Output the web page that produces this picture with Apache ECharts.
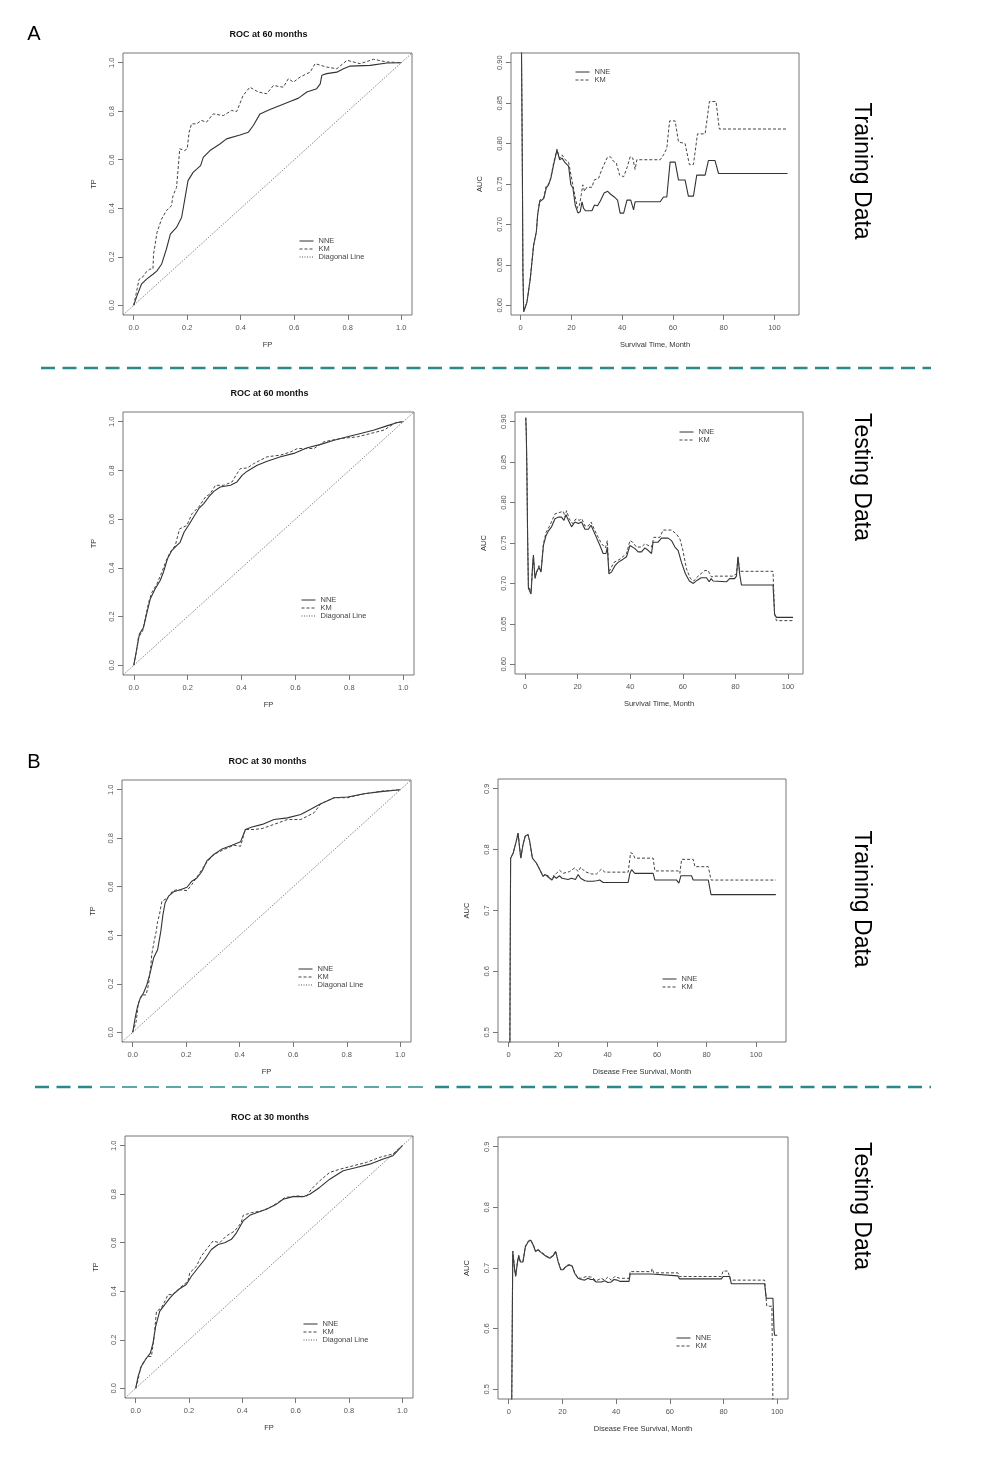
<!DOCTYPE html>
<html>
<head>
<meta charset="utf-8">
<script src="https://cdn.jsdelivr.net/npm/echarts@6/dist/echarts.min.js"></script>
<style>
  html, body { margin:0; padding:0; background:#fff; }
  #main { width:985px; height:1476px; }
</style>
</head>
<body>
<div id="main"></div>
<script>
// ticks / labels
var rocTicks = [0, 0.2, 0.4, 0.6, 0.8, 1.0];
var monthTicks = [0, 20, 40, 60, 80, 100];
var aucTicksA = [0.60, 0.65, 0.70, 0.75, 0.80, 0.85, 0.90];
var aucTicksB = [0.5, 0.6, 0.7, 0.8, 0.9];
var rocTitles = ['ROC at 60 months', 'ROC at 60 months', 'ROC at 30 months', 'ROC at 30 months'];
var aucXNames = ['Survival Time, Month', 'Survival Time, Month', 'Disease Free Survival, Month', 'Disease Free Survival, Month'];
var rowLabels = ['Training Data', 'Testing Data', 'Training Data', 'Testing Data'];
var partLabels = ['A', 'B'];

var diagonal = [[-0.04, -0.04], [1.04, 1.04]];

// A - training - ROC
var rocTrainA_nne = [[0,0],[0.012,0.039],[0.029,0.087],[0.047,0.107],[0.072,0.128],[0.087,0.142],[0.104,0.169],[0.122,0.231],[0.137,0.293],[0.160,0.321],[0.179,0.362],[0.191,0.438],[0.203,0.514],[0.222,0.548],[0.250,0.576],[0.260,0.610],[0.285,0.638],[0.322,0.665],[0.347,0.686],[0.397,0.702],[0.428,0.713],[0.447,0.741],[0.472,0.789],[0.509,0.807],[0.547,0.824],[0.584,0.840],[0.616,0.854],[0.647,0.879],[0.684,0.893],[0.697,0.913],[0.703,0.948],[0.721,0.955],[0.759,0.961],[0.784,0.975],[0.809,0.986],[0.884,0.989],[0.946,0.999],[1,1]];
var rocTrainA_km = [[0,0],[0.01,0.052],[0.02,0.107],[0.035,0.118],[0.047,0.138],[0.06,0.149],[0.072,0.15],[0.074,0.21],[0.08,0.25],[0.087,0.300],[0.104,0.355],[0.122,0.390],[0.141,0.410],[0.147,0.452],[0.160,0.486],[0.166,0.562],[0.172,0.645],[0.191,0.638],[0.2,0.645],[0.207,0.713],[0.216,0.748],[0.235,0.748],[0.253,0.762],[0.272,0.755],[0.297,0.789],[0.335,0.782],[0.366,0.803],[0.385,0.799],[0.409,0.865],[0.434,0.899],[0.466,0.879],[0.497,0.872],[0.522,0.906],[0.559,0.899],[0.578,0.934],[0.597,0.920],[0.622,0.941],[0.659,0.961],[0.678,0.996],[0.721,0.982],[0.759,0.975],[0.797,1.010],[0.846,0.996],[0.896,1.014],[0.946,1.003],[1,1]];

// A - training - AUC
var aucTrainA_nne = [[0.3,0.93],[0.5,0.848],[0.7,0.757],[0.9,0.641],[1.2,0.592],[1.8,0.594],[2.5,0.604],[3.8,0.633],[5.1,0.674],[6.2,0.691],[6.7,0.712],[7.5,0.728],[9.1,0.732],[10.1,0.745],[11,0.749],[11.9,0.757],[13,0.774],[14.3,0.792],[15.4,0.780],[16.3,0.782],[17.6,0.776],[18.9,0.772],[19.8,0.749],[20.6,0.745],[21.5,0.724],[22.6,0.714],[23.5,0.716],[24.2,0.728],[24.8,0.720],[25.5,0.717],[28.1,0.717],[29.1,0.724],[30.3,0.723],[31.4,0.729],[32.9,0.739],[34.3,0.741],[35.6,0.737],[36.9,0.734],[38.2,0.730],[39.2,0.714],[40.6,0.714],[41.9,0.730],[43.4,0.730],[44.5,0.718],[45.1,0.728],[55,0.728],[56.3,0.734],[57.6,0.734],[58.9,0.777],[60.9,0.777],[62.2,0.755],[64.8,0.755],[66.1,0.735],[68.1,0.735],[69.4,0.761],[72.7,0.761],[74,0.779],[76.6,0.779],[78,0.763],[105.2,0.763]];
var aucTrainA_km = [[0.3,0.93],[0.5,0.848],[0.7,0.757],[0.9,0.641],[1.2,0.592],[1.8,0.594],[2.5,0.604],[3.8,0.633],[5.1,0.674],[6.2,0.691],[6.7,0.712],[7.5,0.730],[9.1,0.733],[10.1,0.748],[11,0.750],[11.9,0.758],[13,0.776],[14.3,0.793],[15.4,0.782],[16.3,0.786],[17.6,0.780],[18.9,0.777],[20.2,0.755],[21.5,0.734],[22.4,0.720],[23.2,0.724],[23.9,0.737],[24.5,0.749],[25.2,0.741],[26.1,0.746],[28.1,0.746],[29,0.755],[30.7,0.757],[32,0.768],[34,0.782],[35.3,0.784],[36.6,0.778],[37.7,0.776],[39,0.761],[40.6,0.759],[41.9,0.770],[43.2,0.784],[44.2,0.782],[45.1,0.768],[45.8,0.780],[55,0.780],[56.3,0.786],[57.6,0.794],[58.7,0.828],[60.9,0.828],[62.2,0.802],[64.8,0.800],[66.5,0.774],[68.1,0.774],[69.7,0.812],[72.7,0.812],[74.4,0.852],[77,0.852],[78.3,0.818],[105.2,0.818]];

// A - testing - ROC
var rocTestA_nne = [[0,0],[0.011,0.066],[0.021,0.128],[0.036,0.155],[0.046,0.203],[0.061,0.272],[0.079,0.313],[0.098,0.348],[0.110,0.382],[0.125,0.437],[0.141,0.471],[0.160,0.492],[0.172,0.505],[0.187,0.547],[0.203,0.574],[0.222,0.609],[0.241,0.643],[0.259,0.663],[0.278,0.691],[0.297,0.714],[0.321,0.732],[0.359,0.739],[0.383,0.753],[0.402,0.780],[0.421,0.797],[0.458,0.821],[0.495,0.838],[0.545,0.856],[0.594,0.870],[0.644,0.893],[0.694,0.907],[0.743,0.924],[0.793,0.938],[0.842,0.952],[0.892,0.966],[0.942,0.984],[0.979,0.997],[1,1]];
var rocTestA_km = [[0,0],[0.009,0.052],[0.017,0.114],[0.033,0.141],[0.042,0.190],[0.055,0.258],[0.067,0.299],[0.086,0.334],[0.104,0.382],[0.123,0.437],[0.135,0.464],[0.154,0.492],[0.170,0.560],[0.197,0.574],[0.216,0.622],[0.241,0.650],[0.266,0.691],[0.284,0.705],[0.303,0.739],[0.334,0.739],[0.365,0.753],[0.383,0.787],[0.396,0.808],[0.421,0.810],[0.445,0.828],[0.470,0.842],[0.495,0.856],[0.545,0.863],[0.582,0.876],[0.607,0.890],[0.669,0.890],[0.706,0.918],[0.768,0.931],[0.830,0.938],[0.880,0.952],[0.929,0.966],[0.973,0.997],[1,1]];

// A - testing - AUC
var aucTestA_nne = [[0.3,0.905],[0.5,0.885],[0.7,0.845],[1.0,0.757],[1.3,0.694],[1.9,0.692],[2.3,0.687],[2.9,0.722],[3.2,0.735],[3.8,0.706],[4.4,0.714],[5.3,0.720],[6.1,0.714],[7,0.747],[8,0.759],[8.9,0.765],[10.1,0.770],[11.4,0.780],[12.7,0.782],[13.9,0.782],[14.8,0.778],[15.6,0.785],[16.5,0.778],[17.7,0.770],[19,0.776],[20.3,0.774],[21.5,0.776],[22.8,0.767],[24.1,0.767],[25.1,0.772],[26.6,0.761],[28.5,0.747],[29.7,0.737],[30.8,0.737],[31.3,0.745],[31.9,0.712],[32.3,0.710],[32.9,0.714],[34.2,0.722],[35.4,0.726],[37.3,0.730],[38.6,0.733],[39.9,0.747],[40.5,0.749],[41.8,0.743],[43,0.739],[44.3,0.739],[45.6,0.744],[46.8,0.741],[48.1,0.737],[48.7,0.751],[50.6,0.751],[51.9,0.756],[54.4,0.756],[55.7,0.753],[57,0.745],[58.2,0.741],[59.5,0.726],[61,0.712],[62.5,0.703],[64,0.700],[65.5,0.704],[67,0.707],[69,0.707],[70,0.702],[70.8,0.706],[71.5,0.703],[72.2,0.702],[76.6,0.702],[77.8,0.706],[79.7,0.706],[80.4,0.709],[81,0.733],[81.6,0.712],[82.3,0.698],[94.3,0.698],[94.9,0.662],[95.6,0.658],[101.9,0.658]];
var aucTestA_km = [[0.3,0.905],[0.5,0.885],[0.7,0.845],[1.0,0.757],[1.3,0.696],[2.3,0.690],[2.9,0.722],[3.2,0.733],[3.8,0.708],[5.3,0.722],[6.1,0.716],[7,0.749],[8,0.763],[9.5,0.772],[11.4,0.786],[13.3,0.788],[14.6,0.789],[15.2,0.782],[15.8,0.790],[16.8,0.780],[18.1,0.774],[19.4,0.780],[20.6,0.778],[21.6,0.780],[22.8,0.771],[24.1,0.771],[25.1,0.776],[27.2,0.761],[29.1,0.749],[30.6,0.744],[31.3,0.753],[31.9,0.714],[32.5,0.714],[33.8,0.726],[36.1,0.730],[38.6,0.737],[39.9,0.753],[40.9,0.751],[42.4,0.745],[44.3,0.745],[45.6,0.749],[48.1,0.745],[49,0.757],[51.3,0.757],[52.5,0.766],[55.7,0.766],[57.6,0.761],[58.9,0.755],[59.9,0.743],[61.4,0.718],[62.9,0.706],[64.2,0.703],[65.2,0.707],[66.5,0.711],[68.4,0.716],[69.6,0.716],[70.9,0.708],[71.5,0.710],[72.2,0.709],[79.1,0.709],[80.4,0.712],[81,0.733],[81.6,0.715],[94.3,0.715],[94.9,0.662],[95.6,0.654],[101.9,0.654]];

// B - training - ROC
var rocTrainB_nne = [[0,0],[0.009,0.058],[0.018,0.106],[0.028,0.140],[0.040,0.161],[0.053,0.196],[0.065,0.244],[0.078,0.306],[0.093,0.340],[0.105,0.416],[0.113,0.485],[0.121,0.533],[0.134,0.561],[0.153,0.579],[0.178,0.588],[0.203,0.598],[0.221,0.623],[0.240,0.636],[0.259,0.664],[0.278,0.708],[0.303,0.733],[0.334,0.756],[0.371,0.771],[0.403,0.785],[0.421,0.836],[0.446,0.846],[0.484,0.857],[0.528,0.877],[0.578,0.884],[0.628,0.898],[0.665,0.919],[0.703,0.942],[0.753,0.967],[0.803,0.970],[0.865,0.983],[0.928,0.992],[1,1]];
var rocTrainB_km = [[0,0],[0.013,0.044],[0.021,0.120],[0.034,0.154],[0.050,0.154],[0.059,0.196],[0.068,0.278],[0.071,0.320],[0.080,0.375],[0.088,0.416],[0.093,0.457],[0.100,0.485],[0.109,0.540],[0.130,0.554],[0.150,0.584],[0.171,0.588],[0.203,0.584],[0.221,0.609],[0.246,0.650],[0.275,0.698],[0.303,0.733],[0.340,0.753],[0.378,0.771],[0.403,0.767],[0.421,0.836],[0.453,0.836],[0.484,0.840],[0.528,0.857],[0.578,0.877],[0.628,0.877],[0.678,0.905],[0.703,0.942],[0.753,0.967],[0.803,0.967],[0.865,0.983],[0.928,0.994],[1,1]];

// B - training - AUC
var aucTrainB_nne = [[0.5,0.47],[0.6,0.6],[0.8,0.786],[1.8,0.794],[3.1,0.814],[3.8,0.827],[4.2,0.825],[4.9,0.786],[5.8,0.808],[6.7,0.822],[7.8,0.825],[8.5,0.814],[9.6,0.786],[11.2,0.778],[12.6,0.767],[13.9,0.756],[14.8,0.759],[16.6,0.753],[17.5,0.750],[18.4,0.756],[19.3,0.753],[20.6,0.757],[21.6,0.753],[24,0.751],[25.4,0.753],[26.1,0.754],[27,0.751],[28.1,0.759],[29.1,0.753],[30.8,0.749],[32.1,0.748],[34.1,0.748],[35.5,0.749],[36.8,0.750],[38.2,0.746],[48.3,0.746],[49,0.761],[49.7,0.767],[51,0.761],[58.4,0.761],[59.1,0.750],[67.9,0.750],[68.8,0.745],[69.6,0.757],[73.9,0.757],[74.6,0.750],[80.7,0.750],[81.8,0.726],[108,0.726]];
var aucTrainB_km = [[0.5,0.47],[0.6,0.6],[0.8,0.786],[1.8,0.794],[3.1,0.814],[3.8,0.828],[4.2,0.826],[4.9,0.786],[5.8,0.808],[6.7,0.822],[7.8,0.825],[8.5,0.814],[9.6,0.786],[11.2,0.778],[12.6,0.767],[13.9,0.757],[14.8,0.760],[16.6,0.755],[17.5,0.750],[18.4,0.759],[19.3,0.761],[20.6,0.766],[22,0.761],[24.7,0.764],[26.7,0.770],[28.1,0.764],[29.1,0.771],[30.8,0.764],[33.5,0.760],[35.5,0.760],[37.5,0.768],[38.9,0.763],[48.3,0.763],[49.3,0.795],[50.3,0.793],[51,0.786],[58.4,0.786],[59.1,0.765],[68.6,0.765],[69.2,0.761],[69.9,0.784],[74.6,0.784],[75.3,0.772],[80.7,0.772],[81.8,0.750],[108,0.750]];

// B - testing - ROC
var rocTestB_nne = [[0,0],[0.009,0.048],[0.021,0.090],[0.040,0.124],[0.055,0.145],[0.065,0.186],[0.075,0.255],[0.090,0.317],[0.109,0.345],[0.128,0.372],[0.146,0.393],[0.165,0.410],[0.190,0.428],[0.209,0.462],[0.234,0.497],[0.259,0.531],[0.284,0.572],[0.309,0.593],[0.334,0.600],[0.359,0.614],[0.378,0.641],[0.403,0.690],[0.428,0.713],[0.453,0.724],[0.490,0.738],[0.528,0.759],[0.553,0.779],[0.590,0.790],[0.628,0.790],[0.653,0.800],[0.690,0.828],[0.728,0.862],[0.778,0.897],[0.828,0.910],[0.878,0.924],[0.928,0.945],[0.965,0.959],[1,1]];
var rocTestB_km = [[0,0],[0.009,0.034],[0.018,0.083],[0.030,0.110],[0.046,0.131],[0.059,0.131],[0.068,0.200],[0.078,0.317],[0.096,0.331],[0.113,0.366],[0.121,0.386],[0.140,0.386],[0.165,0.414],[0.196,0.441],[0.203,0.476],[0.228,0.503],[0.246,0.545],[0.265,0.572],[0.290,0.607],[0.315,0.600],[0.340,0.628],[0.371,0.648],[0.396,0.683],[0.403,0.713],[0.434,0.724],[0.471,0.731],[0.503,0.745],[0.534,0.766],[0.559,0.786],[0.603,0.793],[0.640,0.790],[0.659,0.821],[0.690,0.855],[0.728,0.890],[0.765,0.903],[0.815,0.917],[0.865,0.931],[0.915,0.952],[0.965,0.966],[1,1]];

// B - testing - AUC
var aucTestB_nne = [[1.1,0.47],[1.3,0.6],[1.5,0.727],[2.2,0.697],[2.6,0.686],[3.2,0.708],[3.7,0.720],[4.3,0.710],[5.3,0.710],[6.2,0.735],[7.2,0.743],[8.1,0.746],[9.1,0.738],[10,0.727],[10.9,0.730],[12.2,0.725],[14,0.719],[15.3,0.716],[16.5,0.720],[17.5,0.727],[18.4,0.710],[19.4,0.697],[20.2,0.697],[21.5,0.703],[22.7,0.705],[23.6,0.703],[24.6,0.691],[25.8,0.683],[27,0.681],[28.3,0.680],[29.5,0.683],[30.5,0.681],[31.4,0.681],[32.6,0.677],[34.5,0.677],[35.7,0.679],[36.9,0.676],[38.2,0.677],[39.2,0.681],[40.4,0.680],[41.3,0.678],[44.8,0.678],[45.2,0.690],[53.1,0.690],[53.7,0.687],[63,0.687],[63.6,0.682],[79.2,0.682],[79.8,0.686],[82.3,0.686],[82.9,0.674],[95.3,0.674],[95.9,0.650],[98.4,0.650],[98.8,0.598],[99,0.589],[100,0.589]];
var aucTestB_km = [[1.1,0.47],[1.3,0.6],[1.5,0.728],[2.2,0.699],[2.6,0.688],[3.2,0.709],[3.7,0.721],[4.3,0.711],[5.3,0.711],[6.2,0.736],[7.2,0.744],[8.1,0.747],[9.1,0.739],[10,0.728],[10.9,0.731],[12.2,0.726],[14,0.720],[15.3,0.717],[16.5,0.721],[17.5,0.728],[18.4,0.711],[19.4,0.698],[20.2,0.698],[21.5,0.704],[22.7,0.706],[23.6,0.704],[24.6,0.692],[25.8,0.684],[27,0.683],[28.9,0.686],[30.8,0.685],[32.6,0.679],[34.5,0.683],[35.7,0.680],[36.9,0.685],[38.2,0.680],[39.5,0.686],[41.3,0.683],[44.8,0.683],[45.2,0.694],[53.1,0.694],[53.4,0.699],[54,0.692],[63,0.692],[63.6,0.686],[79.2,0.686],[79.8,0.695],[81.6,0.695],[82.6,0.680],[95.3,0.680],[96.1,0.637],[98,0.637],[98.4,0.47]];

// panel boxes (px) and axis ranges
var FONT = 'Liberation Sans, Arial, sans-serif';
var panels = [
  {left:123, top:53,   width:289, height:262, x:[-0.04,1.04], y:[-0.04,1.04], roc:true,  nne:rocTrainA_nne, km:rocTrainA_km, title:rocTitles[0], leg:[299,237]},
  {left:511, top:53,   width:288, height:262, x:[-3.8,109.7], y:[0.588,0.912], roc:false, nne:aucTrainA_nne, km:aucTrainA_km, xName:aucXNames[0], yTicks:aucTicksA, leg:[575,68]},
  {left:123, top:412,  width:291, height:263, x:[-0.04,1.04], y:[-0.04,1.04], roc:true,  nne:rocTestA_nne, km:rocTestA_km, title:rocTitles[1], leg:[301,596]},
  {left:515, top:412,  width:288, height:262, x:[-3.8,105.7], y:[0.588,0.912], roc:false, nne:aucTestA_nne, km:aucTestA_km, xName:aucXNames[1], yTicks:aucTicksA, leg:[679,428]},
  {left:122, top:780,  width:289, height:262, x:[-0.04,1.04], y:[-0.04,1.04], roc:true,  nne:rocTrainB_nne, km:rocTrainB_km, title:rocTitles[2], leg:[298,965]},
  {left:498, top:779,  width:288, height:263, x:[-4.3,112.1], y:[0.484,0.916], roc:false, nne:aucTrainB_nne, km:aucTrainB_km, xName:aucXNames[2], yTicks:aucTicksB, leg:[662,975]},
  {left:125, top:1136, width:288, height:262, x:[-0.04,1.04], y:[-0.04,1.04], roc:true,  nne:rocTestB_nne, km:rocTestB_km, title:rocTitles[3], leg:[303,1320]},
  {left:498, top:1137, width:290, height:262, x:[-4,104],     y:[0.484,0.916], roc:false, nne:aucTestB_nne, km:aucTestB_km, xName:aucXNames[3], yTicks:aucTicksB, leg:[676,1334]}
];

function fmt1(v) { return v.toFixed(1); }
function fmtInt(v) { return String(Math.round(v)); }

function axisBase(i, range, ticks, formatter, name, isY) {
  return {
    type: 'value', gridIndex: i, min: range[0], max: range[1],
    position: isY ? 'left' : 'bottom',
    name: name, nameLocation: 'middle', nameGap: isY ? 25 : 26,
    nameRotate: isY ? 90 : 0,
    nameTextStyle: {fontSize: 7.5, color: '#333', fontFamily: FONT},
    axisLine: {show: false, onZero: false},
    axisTick: {show: true, inside: false, length: 5, customValues: ticks, lineStyle: {color: '#777', width: 1}},
    axisLabel: {customValues: ticks, formatter: formatter, fontSize: 7.5, color: '#555',
                fontFamily: FONT, margin: isY ? 7 : 9, rotate: isY ? 90 : 0},
    splitLine: {show: false}
  };
}

var grids = [], xAxes = [], yAxes = [], series = [], legends = [], graphics = [];

panels.forEach(function(p, i) {
  grids.push({left: p.left, top: p.top, width: p.width, height: p.height, show: true,
              borderColor: '#777', borderWidth: 1, backgroundColor: 'transparent',
              containLabel: false, outerBoundsMode: 'none'});
  if (p.roc) {
    xAxes.push(axisBase(i, p.x, rocTicks, fmt1, 'FP', false));
    yAxes.push(axisBase(i, p.y, rocTicks, fmt1, 'TP', true));
  } else {
    xAxes.push(axisBase(i, p.x, monthTicks, fmtInt, p.xName, false));
    var yf = p.yTicks === aucTicksA ? function(v) { return v.toFixed(2); } : fmt1;
    var ya = axisBase(i, p.y, p.yTicks, yf, 'AUC', true);
    ya.nameGap = 27;
    yAxes.push(ya);
  }

  series.push({name: 'NNE', type: 'line', xAxisIndex: i, yAxisIndex: i, data: p.nne,
               showSymbol: false, symbol: 'none', silent: true, clip: true,
               itemStyle: {color: '#333'},
               lineStyle: {color: '#333', width: 1.1, type: 'solid'}});
  series.push({name: 'KM', type: 'line', xAxisIndex: i, yAxisIndex: i, data: p.km,
               showSymbol: false, symbol: 'none', silent: true, clip: true,
               itemStyle: {color: '#444'},
               lineStyle: {color: '#444', width: 1, type: [3, 2]}});
  if (p.roc) {
    series.push({name: 'Diagonal Line', type: 'line', xAxisIndex: i, yAxisIndex: i, data: diagonal,
                 showSymbol: false, symbol: 'none', silent: true, clip: true,
                 itemStyle: {color: '#555'},
                 lineStyle: {color: '#555', width: 0.9, type: [1, 1.5]}});
  }

  legends.push({
    orient: 'vertical', left: p.leg[0], top: p.leg[1], padding: 0,
    itemWidth: 14, itemHeight: 9, itemGap: 0, selectedMode: false,
    itemStyle: {opacity: 0, borderWidth: 0},
    lineStyle: {width: 1},
    textStyle: {fontSize: 7.5, color: '#444', fontFamily: FONT},
    data: p.roc ? ['NNE', 'KM', 'Diagonal Line'] : ['NNE', 'KM']
  });

  if (p.roc) {
    graphics.push({type: 'text', x: p.left + p.width / 2 + 1, y: p.top - 18,
      style: {text: p.title, font: 'bold 9px ' + FONT, fill: '#111',
              textAlign: 'center', textVerticalAlign: 'middle'}});
  }
});

// side labels
var rowCentres = [171, 477, 899, 1206];
rowLabels.forEach(function(t, i) {
  graphics.push({type: 'text', x: 861, y: rowCentres[i], rotation: -Math.PI / 2,
    style: {text: t, font: '23px ' + FONT, fill: '#000',
            textAlign: 'center', textVerticalAlign: 'middle'}});
});

// A / B
graphics.push({type: 'text', x: 34, y: 34, style: {text: partLabels[0], font: '20px ' + FONT, fill: '#000', textAlign: 'center', textVerticalAlign: 'middle'}});
graphics.push({type: 'text', x: 34, y: 762, style: {text: partLabels[1], font: '20px ' + FONT, fill: '#000', textAlign: 'center', textVerticalAlign: 'middle'}});

// dashed separators
var SEP = '#2b8a89';
graphics.push({type: 'line', shape: {x1: 41, y1: 368, x2: 931, y2: 368},
  style: {stroke: SEP, lineWidth: 2.5, lineDash: [14, 7.5]}});
graphics.push({type: 'line', shape: {x1: 35, y1: 1087, x2: 95, y2: 1087},
  style: {stroke: SEP, lineWidth: 2.5, lineDash: [14, 7.5]}});
graphics.push({type: 'line', shape: {x1: 100, y1: 1087, x2: 430, y2: 1087},
  style: {stroke: SEP, lineWidth: 1.5, lineDash: [15, 7]}});
graphics.push({type: 'line', shape: {x1: 435, y1: 1087, x2: 931, y2: 1087},
  style: {stroke: SEP, lineWidth: 2.5, lineDash: [14, 7.5]}});

var myChart = echarts.init(document.getElementById('main'));
myChart.setOption({
  backgroundColor: '#fff',
  animation: false,
  grid: grids,
  xAxis: xAxes,
  yAxis: yAxes,
  legend: legends,
  series: series,
  graphic: graphics
});
</script>
</body>
</html>
